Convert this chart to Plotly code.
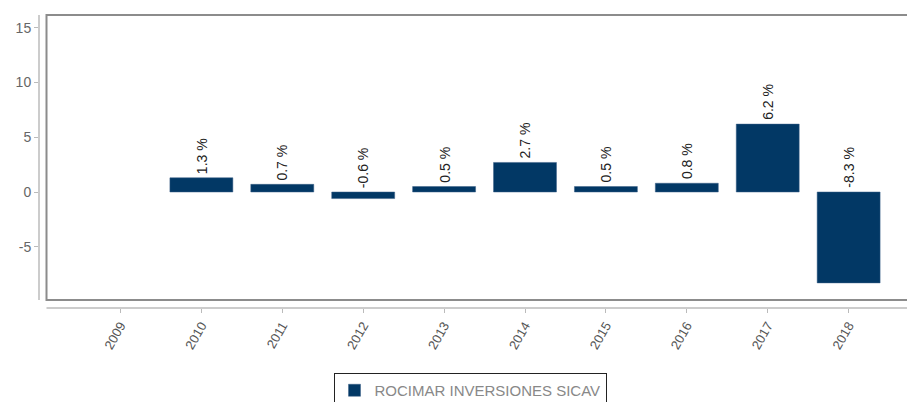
import plotly.graph_objects as go

years = ["2009", "2010", "2011", "2012", "2013", "2014", "2015", "2016", "2017", "2018"]
returns = [None, 1.3, 0.7, -0.6, 0.5, 2.7, 0.5, 0.8, 6.2, -8.3]
series_name = "ROCIMAR INVERSIONES SICAV"
y_ticks = [-5, 0, 5, 10, 15]
y_tick_text = ["-5", "0", "5", "10", "15"]

# page body has an 8px margin, so the figure is shrunk by 8px and offsets reduced
OFF = 8
W, H = 915 - OFF, 402 - OFF
L, R, T, B = 39 - OFF, 1, 15 - OFF, 94
pw = W - L - R
ph = H - T - B

fig = go.Figure()
fig.add_trace(go.Bar(
    x=years, y=returns, name=series_name,
    marker=dict(color="#023865", line=dict(color="#3a5f86", width=0.5)),
    showlegend=True,
))

for i, v in enumerate(returns):
    if v is None:
        continue
    fig.add_annotation(
        x=i, y=max(v, 0), text=f"{v:.1f} %", textangle=-90,
        showarrow=False, yanchor="bottom", xanchor="center", yshift=2,
        font=dict(family="Liberation Sans, Arial, sans-serif", size=14, color="#222222"),
    )

fx0 = (46.5 - 39) / pw
fy0 = (308 - 300) / ph
shapes = [
    dict(type="rect", xref="paper", yref="paper", x0=fx0, x1=1.01, y0=fy0, y1=1,
         line=dict(color="#8c8c8c", width=2), fillcolor="rgba(0,0,0,0)", layer="above"),
    dict(type="line", xref="paper", yref="paper", x0=0, x1=0, y0=fy0, y1=1,
         line=dict(color="#cccccc", width=2)),
    dict(type="line", xref="paper", yref="paper", x0=fx0, x1=1.01, y0=0, y1=0,
         line=dict(color="#cccccc", width=2)),
]

fig.update_layout(
    width=W, height=H,
    margin=dict(l=L, r=R, t=T, b=B, autoexpand=False),
    paper_bgcolor="white", plot_bgcolor="white",
    font=dict(family="Liberation Sans, Arial, sans-serif", size=11, color="#555555"),
    bargap=0.222,
    shapes=shapes,
    xaxis=dict(
        type="category", range=[-1.007, 9.808], showgrid=False, showline=False,
        zeroline=False, ticks="outside", ticklen=4, tickcolor="#bbbbbb",
        tickangle=-60, tickfont=dict(size=13, color="#555555"), automargin=False,
    ),
    yaxis=dict(
        range=[-116 / 10.95, 177 / 10.95], tickvals=y_ticks, ticktext=y_tick_text,
        showgrid=False, showline=False, zeroline=False, ticks="outside", ticklen=4,
        tickcolor="#bbbbbb", tickfont=dict(size=14, color="#666666"), automargin=False,
    ),
    legend=dict(
        orientation="h", x=(470 - 39) / pw, xanchor="center", y=-(373 - 308) / ph,
        yanchor="top", bordercolor="#222222", borderwidth=1, bgcolor="white",
        font=dict(size=15, color="#888888"),
    ),
)

fig.write_html("out.html")
